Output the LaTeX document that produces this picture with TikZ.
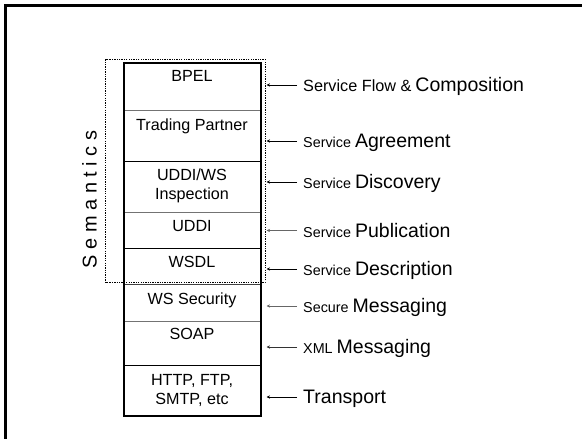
\documentclass[tikz,border=0pt]{standalone}
\usepackage{fontspec}
\setmainfont{Liberation Sans}
\usetikzlibrary{arrows.meta}
\newcommand{\bigtx}{\fontsize{19.6}{20}\selectfont}
\begin{document}
\begin{tikzpicture}[x=1bp,y=-1bp,
  bt/.style={font=\fontsize{16.2}{19}\selectfont, inner sep=0pt, text height=11.6pt, text depth=0pt},
  btm/.style={font=\fontsize{16.2}{19}\selectfont, inner sep=0pt, align=center},
  lab/.style={anchor=west, inner sep=0pt, text height=14pt, text depth=0pt, font=\fontsize{14.4}{15}\selectfont},
  arr/.style={line width=0.8pt, -{Stealth[length=3.5pt,width=3.2pt]}},
  divk/.style={line width=1pt, black},
  divg/.style={line width=1pt, black!55},
]
\useasboundingbox (0,0) rectangle (582,439);
\fill[white] (-2,-2) rectangle (590,445);
% outer frame (only top and left edges visible)
\draw[line width=2.3pt] (5.5,445) -- (5.5,5.5) -- (590,5.5);
% semantics dotted region
\draw[line width=0.9pt, dash pattern=on 1.3pt off 1.1pt] (105.7,59.3) rectangle (265,282.7);
% stack dividers
\draw[divg] (123.7,110.7) -- (260.7,110.7);
\draw[divk] (123.7,161.7) -- (260.7,161.7);
\draw[divg] (123.7,212) -- (260.7,212);
\draw[divk] (123.7,248.7) -- (260.7,248.7);
\draw[line width=1.2pt, black!75] (123.7,284.3) -- (260.7,284.3);
\draw[divg] (123.7,321.7) -- (260.7,321.7);
\draw[divk] (123.7,365.7) -- (260.7,365.7);
% stack outline
\draw[line width=2pt] (123.7,63) rectangle (260.7,416.3);
% layer texts
\node[bt] (bpel) at (192,76) {BPEL};
\node[bt] (trading) at (192,125) {Trading Partner};
\node[btm] (uddiws) at (192,186) {UDDI/WS\\Inspection};
\node[bt] (uddi) at (192,226) {UDDI};
\node[bt] (wsdl) at (192,262) {WSDL};
\node[bt] (wssec) at (192,299) {WS Security};
\node[bt] (soap) at (192,334) {SOAP};
\node[btm] (http) at (192,390.6) {HTTP, FTP,\\SMTP, etc};
% semantics label
\node[rotate=90, inner sep=0pt, text height=14.3pt, text depth=0pt, font=\fontsize{20}{20}\selectfont] (sem) at (89.5,199.5) {S e m a n t i c s};
% tip line
\coordinate (tip) at (266.5,0);
% right labels
\node[lab] (l1) at (303,85) {{\fontsize{16.3}{17}\selectfont Service Flow \&} {\bigtx Composition}};
\node[lab] (l2) at (303,141) {Service {\bigtx Agreement}};
\node[lab] (l3) at (303,182) {Service {\bigtx Discovery}};
\node[lab] (l4) at (303,230.5) {Service {\bigtx Publication}};
\node[lab] (l5) at (303,269) {Service {\bigtx Description}};
\node[lab] (l6) at (303,306) {Secure {\bigtx Messaging}};
\node[lab] (l7) at (303,347) {XML {\bigtx Messaging}};
\node[lab] (l8) at (303,397) {{\bigtx Transport}};
\foreach \n/\c in {l1/black,l2/black,l3/black,l4/black!60,l5/black,l6/black!60,l7/black!80,l8/black}
  \draw[arr, \c] ([xshift=-6pt]\n.west) -- (\n.west -| tip);
\end{tikzpicture}
\end{document}
